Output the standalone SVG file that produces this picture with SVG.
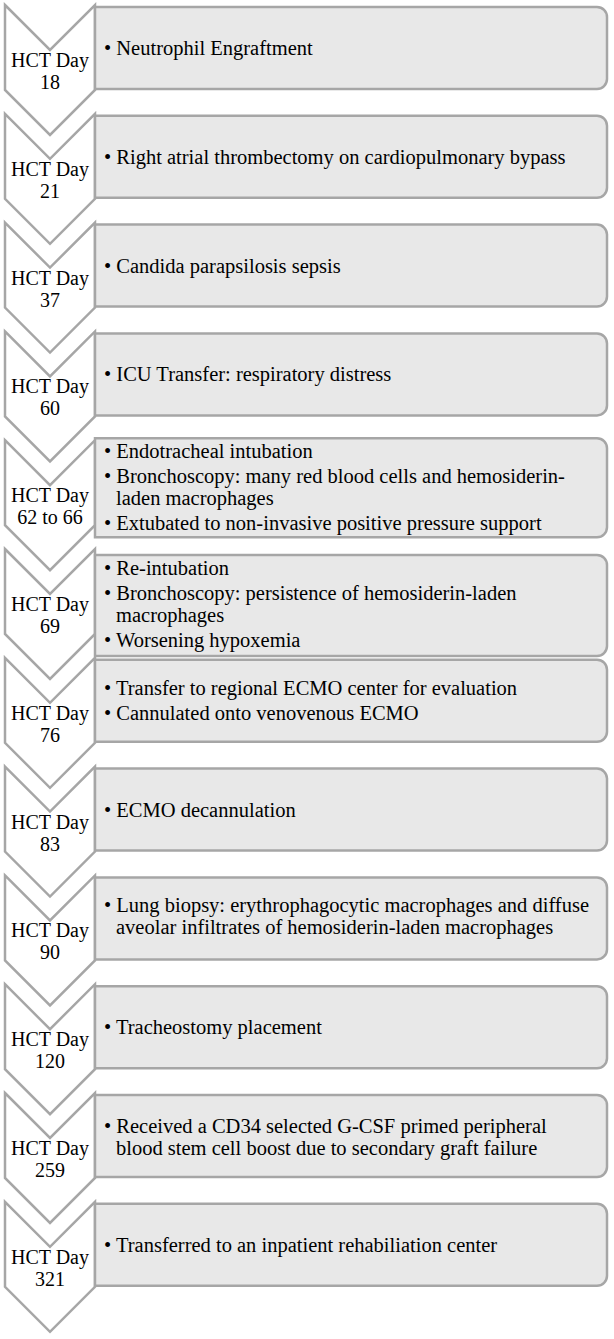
<svg xmlns="http://www.w3.org/2000/svg" width="614" height="1339" viewBox="0 0 614 1339">
<style>
.chev{fill:#ffffff;stroke:#a6a6a6;stroke-width:2.5;stroke-linejoin:miter}
.box{fill:#e8e8e8;stroke:#a6a6a6;stroke-width:2.5}
.lbl{font-family:"Liberation Serif","Times New Roman",serif;font-size:20px;fill:#000;text-anchor:middle}
.txt{font-family:"Liberation Serif","Times New Roman",serif;font-size:20.5px;fill:#000}
</style>
<rect width="614" height="1339" fill="#ffffff"/>
<defs>
<polygon id="chevShape" points="5,5 50,50 95,5 95,90 50,135 5,90"/>
</defs>

<g id="row1">
<use href="#chevShape" class="chev"/>
<text class="lbl" x="50" y="67">HCT Day</text><text class="lbl" x="50" y="89">18</text>
<path class="box" d="M95,7 H597 A10,10 0 0 1 607,17 V79 A10,10 0 0 1 597,89 H95 Z"/>
<text class="txt" x="104" y="55">• Neutrophil Engraftment</text>
</g>

<g id="row2" transform="translate(0,108.8)">
<use href="#chevShape" class="chev"/>
<text class="lbl" x="50" y="67">HCT Day</text><text class="lbl" x="50" y="89">21</text>
<path class="box" d="M95,7 H597 A10,10 0 0 1 607,17 V79 A10,10 0 0 1 597,89 H95 Z"/>
<text class="txt" x="104" y="55">• Right atrial thrombectomy on cardiopulmonary bypass</text>
</g>

<g id="row3" transform="translate(0,217.6)">
<use href="#chevShape" class="chev"/>
<text class="lbl" x="50" y="67">HCT Day</text><text class="lbl" x="50" y="89">37</text>
<path class="box" d="M95,7 H597 A10,10 0 0 1 607,17 V79 A10,10 0 0 1 597,89 H95 Z"/>
<text class="txt" x="104" y="55">• Candida parapsilosis sepsis</text>
</g>

<g id="row4" transform="translate(0,326.4)">
<use href="#chevShape" class="chev"/>
<text class="lbl" x="50" y="67">HCT Day</text><text class="lbl" x="50" y="89">60</text>
<path class="box" d="M95,7 H597 A10,10 0 0 1 607,17 V79 A10,10 0 0 1 597,89 H95 Z"/>
<text class="txt" x="104" y="55">• ICU Transfer: respiratory distress</text>
</g>

<g id="row5" transform="translate(0,435.2)">
<use href="#chevShape" class="chev"/>
<text class="lbl" x="50" y="67">HCT Day</text><text class="lbl" x="50" y="89">62 to 66</text>
<path class="box" d="M95,3 H597 A10,10 0 0 1 607,13 V92 A10,10 0 0 1 597,102 H95 Z"/>
</g>
<g id="row5text">
<text class="txt" x="104" y="458">• Endotracheal intubation</text>
<text class="txt" x="104" y="483">• Bronchoscopy: many red blood cells and hemosiderin-</text>
<text class="txt" x="116" y="505">laden macrophages</text>
<text class="txt" x="104" y="530">• Extubated to non-invasive positive pressure support</text>
</g>

<g id="row6" transform="translate(0,544)">
<use href="#chevShape" class="chev"/>
<text class="lbl" x="50" y="67">HCT Day</text><text class="lbl" x="50" y="89">69</text>
<path class="box" d="M95,11 H597 A10,10 0 0 1 607,21 V102 A10,10 0 0 1 597,112 H95 Z"/>
</g>
<g id="row6text">
<text class="txt" x="104" y="575">• Re-intubation</text>
<text class="txt" x="104" y="600">• Bronchoscopy: persistence of hemosiderin-laden</text>
<text class="txt" x="116" y="622">macrophages</text>
<text class="txt" x="104" y="647">• Worsening hypoxemia</text>
</g>

<g id="row7" transform="translate(0,652.8)">
<use href="#chevShape" class="chev"/>
<text class="lbl" x="50" y="67">HCT Day</text><text class="lbl" x="50" y="89">76</text>
<path class="box" d="M95,7 H597 A10,10 0 0 1 607,17 V79 A10,10 0 0 1 597,89 H95 Z"/>
<text class="txt" x="104" y="42.5">• Transfer to regional ECMO center for evaluation</text>
<text class="txt" x="104" y="67.5">• Cannulated onto venovenous ECMO</text>
</g>

<g id="row8" transform="translate(0,761.6)">
<use href="#chevShape" class="chev"/>
<text class="lbl" x="50" y="67">HCT Day</text><text class="lbl" x="50" y="89">83</text>
<path class="box" d="M95,7 H597 A10,10 0 0 1 607,17 V79 A10,10 0 0 1 597,89 H95 Z"/>
<text class="txt" x="104" y="55">• ECMO decannulation</text>
</g>

<g id="row9" transform="translate(0,870.4)">
<use href="#chevShape" class="chev"/>
<text class="lbl" x="50" y="67">HCT Day</text><text class="lbl" x="50" y="89">90</text>
<path class="box" d="M95,7 H597 A10,10 0 0 1 607,17 V79 A10,10 0 0 1 597,89 H95 Z"/>
<text class="txt" x="104" y="42">• Lung biopsy: erythrophagocytic macrophages and diffuse</text>
<text class="txt" x="116" y="64">aveolar infiltrates of hemosiderin-laden macrophages</text>
</g>

<g id="row10" transform="translate(0,979.2)">
<use href="#chevShape" class="chev"/>
<text class="lbl" x="50" y="67">HCT Day</text><text class="lbl" x="50" y="89">120</text>
<path class="box" d="M95,7 H597 A10,10 0 0 1 607,17 V79 A10,10 0 0 1 597,89 H95 Z"/>
<text class="txt" x="104" y="55">• Tracheostomy placement</text>
</g>

<g id="row11" transform="translate(0,1088)">
<use href="#chevShape" class="chev"/>
<text class="lbl" x="50" y="67">HCT Day</text><text class="lbl" x="50" y="89">259</text>
<path class="box" d="M95,7 H597 A10,10 0 0 1 607,17 V79 A10,10 0 0 1 597,89 H95 Z"/>
<text class="txt" x="104" y="45">• Received a CD34 selected G-CSF primed peripheral</text>
<text class="txt" x="116" y="67">blood stem cell boost due to secondary graft failure</text>
</g>

<g id="row12" transform="translate(0,1196.8)">
<use href="#chevShape" class="chev"/>
<text class="lbl" x="50" y="67">HCT Day</text><text class="lbl" x="50" y="89">321</text>
<path class="box" d="M95,7 H597 A10,10 0 0 1 607,17 V79 A10,10 0 0 1 597,89 H95 Z"/>
<text class="txt" x="104" y="55">• Transferred to an inpatient rehabiliation center</text>
</g>

<g id="connectors"></g>
</svg>
